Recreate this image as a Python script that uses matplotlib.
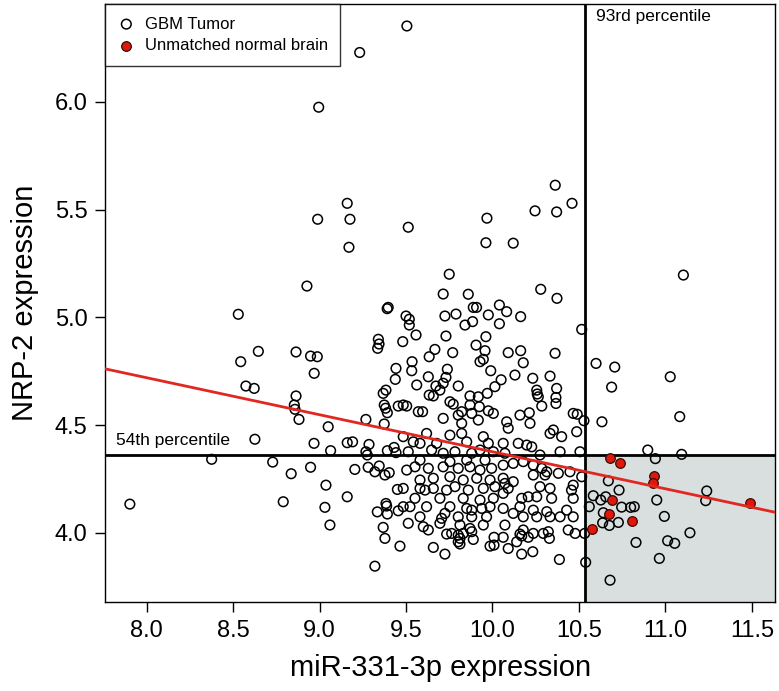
import numpy as np
import matplotlib.pyplot as plt

plt.rcParams['font.family'] = ['Liberation Sans', 'DejaVu Sans']

# GBM tumor samples (miR-331-3p, NRP-2)
tumor_pts = [
    (9.505, 6.352), (9.232, 6.229), (8.995, 5.975), (9.160, 5.529), (9.176, 5.455), (8.989, 5.455),
    (9.170, 5.325), (8.927, 5.145), (9.513, 5.418), (9.968, 5.460), (9.962, 5.346), (10.120, 5.344),
    (10.246, 5.494), (10.363, 5.613), (10.371, 5.489), (10.460, 5.529), (9.750, 5.200), (9.715, 5.108),
    (9.860, 5.107), (10.279, 5.130), (10.373, 5.088),
    (11.104, 5.196), (10.516, 4.944), (10.599, 4.786), (10.707, 4.769), (10.689, 4.676), (11.028, 4.724),
    (10.529, 4.520), (10.633, 4.515), (11.083, 4.539), (10.898, 4.384), (10.942, 4.344), (11.094, 4.364),
    (10.670, 4.241), (10.732, 4.198), (10.583, 4.172), (10.626, 4.152), (10.655, 4.167), (10.560, 4.121),
    (10.747, 4.119), (10.799, 4.118), (10.820, 4.121), (10.950, 4.152), (11.239, 4.194), (11.233, 4.149),
    (10.641, 4.093), (10.728, 4.048), (10.637, 4.046), (10.676, 4.034), (10.994, 4.076), (10.533, 3.997),
    (10.830, 3.955), (11.013, 3.963), (11.054, 3.951), (11.142, 4.000), (10.965, 3.881), (10.539, 3.863),
    (10.680, 3.780),
    (8.530, 5.014), (8.646, 4.842), (8.544, 4.794), (8.864, 4.839), (8.574, 4.681), (8.622, 4.670),
    (8.864, 4.635), (8.854, 4.593), (8.858, 4.573), (8.881, 4.526), (8.626, 4.434), (8.376, 4.341),
    (8.729, 4.328), (8.836, 4.274), (8.790, 4.144), (7.903, 4.133),
    (9.397, 5.046), (9.391, 5.040), (8.948, 4.820), (8.987, 4.817), (8.969, 4.740), (9.340, 4.898),
    (9.344, 4.876), (9.336, 4.856), (9.442, 4.763), (9.438, 4.712), (9.368, 4.647), (9.384, 4.662),
    (9.374, 4.593), (9.382, 4.578), (9.392, 4.557), (9.455, 4.588),
    (9.889, 5.046), (9.908, 5.046), (10.040, 5.057), (9.725, 5.006), (9.789, 5.015), (9.976, 5.011),
    (9.500, 5.006), (9.519, 4.991), (9.519, 4.964), (9.841, 4.964), (9.885, 4.980), (10.040, 4.970),
    (9.558, 4.918), (9.731, 4.913), (9.962, 4.910), (9.481, 4.887), (9.905, 4.871), (9.957, 4.845),
    (9.947, 4.805), (9.928, 4.794), (9.667, 4.851), (9.634, 4.817), (9.770, 4.836), (9.535, 4.794),
    (9.533, 4.752), (9.739, 4.759), (9.990, 4.752), (9.629, 4.724), (9.731, 4.721), (10.050, 4.710),
    (9.562, 4.686), (9.715, 4.694), (9.673, 4.681), (9.802, 4.681), (9.696, 4.662), (9.634, 4.639),
    (9.658, 4.635), (9.870, 4.635), (9.918, 4.631), (9.970, 4.647), (10.014, 4.678), (9.754, 4.608),
    (9.773, 4.597), (9.484, 4.593), (9.504, 4.588), (9.571, 4.562), (9.596, 4.562), (9.870, 4.593),
    (9.924, 4.585), (9.822, 4.562), (9.976, 4.566),
    (10.082, 5.026), (10.163, 5.003), (10.091, 4.836), (10.163, 4.845), (10.178, 4.789), (10.362, 4.833),
    (10.130, 4.732), (10.233, 4.717), (10.333, 4.727), (10.256, 4.662), (10.259, 4.644), (10.265, 4.631),
    (10.371, 4.670), (10.367, 4.628), (10.367, 4.600), (10.285, 4.588), (10.467, 4.554), (10.490, 4.550),
    (10.159, 4.546), (10.213, 4.557),
    (9.050, 4.492), (9.268, 4.526), (9.374, 4.505), (8.968, 4.415), (9.064, 4.381), (9.160, 4.418),
    (9.191, 4.422), (9.286, 4.410), (9.268, 4.376), (9.276, 4.361), (9.392, 4.381), (9.431, 4.396),
    (9.442, 4.372), (8.948, 4.304), (9.204, 4.294), (9.281, 4.304), (9.320, 4.283), (9.345, 4.310),
    (9.378, 4.268), (9.403, 4.279), (9.037, 4.221), (9.160, 4.167), (9.031, 4.118), (9.384, 4.136),
    (9.388, 4.124), (9.334, 4.097), (9.392, 4.087), (9.455, 4.102), (9.060, 4.036), (9.368, 4.025),
    (9.450, 4.201),
    (9.715, 4.531), (9.802, 4.546), (9.822, 4.508), (9.880, 4.554), (9.918, 4.523), (10.005, 4.554),
    (9.619, 4.461), (9.542, 4.422), (9.754, 4.453), (9.822, 4.461), (9.851, 4.422), (9.947, 4.446),
    (9.976, 4.415), (9.677, 4.415), (9.581, 4.415), (9.484, 4.446),
    (9.513, 4.376), (9.648, 4.384), (9.715, 4.369), (9.783, 4.376), (9.880, 4.369), (9.928, 4.384),
    (10.005, 4.376), (9.581, 4.337), (9.754, 4.330), (9.851, 4.337), (9.957, 4.337),
    (9.504, 4.291), (9.552, 4.306), (9.629, 4.299), (9.715, 4.306), (9.802, 4.299), (9.870, 4.306),
    (9.928, 4.291), (9.995, 4.299), (9.581, 4.245), (9.658, 4.253), (9.754, 4.260), (9.831, 4.245),
    (9.909, 4.253), (9.986, 4.245),
    (9.484, 4.206), (9.581, 4.206), (9.610, 4.198), (9.658, 4.206), (9.735, 4.198), (9.783, 4.214),
    (9.860, 4.198), (9.947, 4.206), (10.014, 4.214), (9.696, 4.160), (9.831, 4.160), (9.928, 4.152),
    (10.005, 4.160), (9.552, 4.160),
    (9.484, 4.121), (9.523, 4.121), (9.619, 4.121), (9.754, 4.121), (9.851, 4.113), (9.880, 4.105),
    (9.938, 4.113), (9.986, 4.121), (9.581, 4.074), (9.706, 4.067), (9.725, 4.090), (9.802, 4.074),
    (9.880, 4.074), (9.966, 4.074),
    (9.513, 4.044), (9.600, 4.028), (9.696, 4.044), (9.812, 4.036), (9.870, 4.020), (9.947, 4.036),
    (9.629, 4.013), (9.764, 3.997),
    (9.378, 3.974), (9.320, 3.845), (9.465, 3.938), (9.658, 3.932), (9.725, 3.901), (9.735, 3.994),
    (9.802, 3.989), (9.812, 3.974), (9.802, 3.958), (9.812, 3.948), (9.831, 3.997), (9.889, 3.969),
    (9.880, 4.005), (9.986, 3.938), (10.009, 3.943), (10.009, 3.979), (10.062, 3.979), (10.091, 3.927),
    (10.140, 3.958), (10.169, 3.901), (10.159, 3.994), (10.169, 3.985), (10.207, 3.979), (10.236, 3.997),
    (10.233, 3.912), (10.294, 3.997), (10.329, 3.974), (10.387, 3.876), (10.478, 3.997),
    (10.082, 4.515), (10.217, 4.508), (10.091, 4.485), (10.333, 4.461), (10.352, 4.477), (10.400, 4.446),
    (10.487, 4.469),
    (10.062, 4.415), (10.149, 4.415), (10.198, 4.407), (10.227, 4.399), (10.275, 4.361), (10.391, 4.376),
    (10.506, 4.376), (10.072, 4.369),
    (10.062, 4.314), (10.120, 4.322), (10.178, 4.330), (10.236, 4.314), (10.285, 4.299), (10.314, 4.283),
    (10.304, 4.268), (10.236, 4.268), (10.381, 4.276), (10.448, 4.283), (10.516, 4.260),
    (10.062, 4.253), (10.072, 4.229), (10.091, 4.206), (10.120, 4.237), (10.062, 4.183), (10.275, 4.214),
    (10.333, 4.206), (10.467, 4.221), (10.457, 4.198), (10.207, 4.167), (10.169, 4.160), (10.256, 4.167),
    (10.342, 4.160), (10.467, 4.160),
    (10.062, 4.113), (10.120, 4.090), (10.178, 4.074), (10.236, 4.105), (10.256, 4.074), (10.314, 4.098),
    (10.333, 4.074), (10.391, 4.074), (10.429, 4.105), (10.467, 4.074), (10.159, 4.121),
    (10.072, 4.036), (10.178, 4.013), (10.323, 4.005), (10.438, 4.013),
]

# unmatched normal brain samples
normal_pts = [
    (10.680, 4.345), (10.737, 4.325), (10.934, 4.263), (10.926, 4.232), (10.693, 4.152),
    (10.676, 4.087), (10.805, 4.054), (10.577, 4.016), (11.489, 4.139),
]

fit_intercept = 6.094
fit_slope = -0.1718
cut_mir = 10.537    # 93rd percentile of miR-331-3p
cut_nrp = 4.361     # 54th percentile of NRP-2

tx, ty = np.array(tumor_pts).T
nx, ny = np.array(normal_pts).T

xmin, xmax = 7.762, 11.634
ymin, ymax = 3.680, 6.454

fig = plt.figure(figsize=(7.79, 6.91), dpi=100)
ax = fig.add_axes([0.1354, 0.1292, 0.8595, 0.865])

ax.fill_between([cut_mir, xmax], ymin, cut_nrp, color="#d9dfdf", zorder=0)
ax.axvline(cut_mir, color="black", lw=2, zorder=1)
ax.axhline(cut_nrp, color="black", lw=2, zorder=1)

ax.scatter(tx, ty, s=48, facecolors="none", edgecolors="black", linewidths=1.1,
           zorder=3, label="GBM Tumor")
ax.scatter(nx, ny, s=48, facecolors="#e0180c", edgecolors="#3a0a05", linewidths=0.9,
           zorder=4, label="Unmatched normal brain")

xx = np.array([xmin, xmax])
ax.plot(xx, fit_intercept + fit_slope * xx, color="#e02820", lw=2, zorder=5)

ax.text(cut_mir + 0.06, 6.395, "93rd percentile", fontsize=12.5, va="center")
ax.text(7.82, 4.43, "54th percentile", fontsize=12.5, va="center")

ax.set_xlim(xmin, xmax)
ax.set_ylim(ymin, ymax)
ax.set_xticks(np.arange(8.0, 11.51, 0.5))
ax.set_yticks(np.arange(4.0, 6.01, 0.5))
ax.set_xticklabels(["%.1f" % v for v in np.arange(8.0, 11.51, 0.5)])
ax.set_yticklabels(["%.1f" % v for v in np.arange(4.0, 6.01, 0.5)])
ax.tick_params(labelsize=17, length=7, width=1, pad=6)
for sp in ax.spines.values():
    sp.set_linewidth(1)
ax.set_xlabel("miR-331-3p expression", fontsize=21, labelpad=9)
ax.set_ylabel("NRP-2 expression", fontsize=21, labelpad=11)

leg = ax.legend(loc="upper left", fontsize=12, frameon=True, fancybox=False,
                borderaxespad=0, handletextpad=0.6, borderpad=0.75, labelspacing=0.4,
                handlelength=1.0)
leg.get_frame().set_edgecolor("black")
leg.get_frame().set_linewidth(1)

fig.savefig("out.png", dpi=100)
